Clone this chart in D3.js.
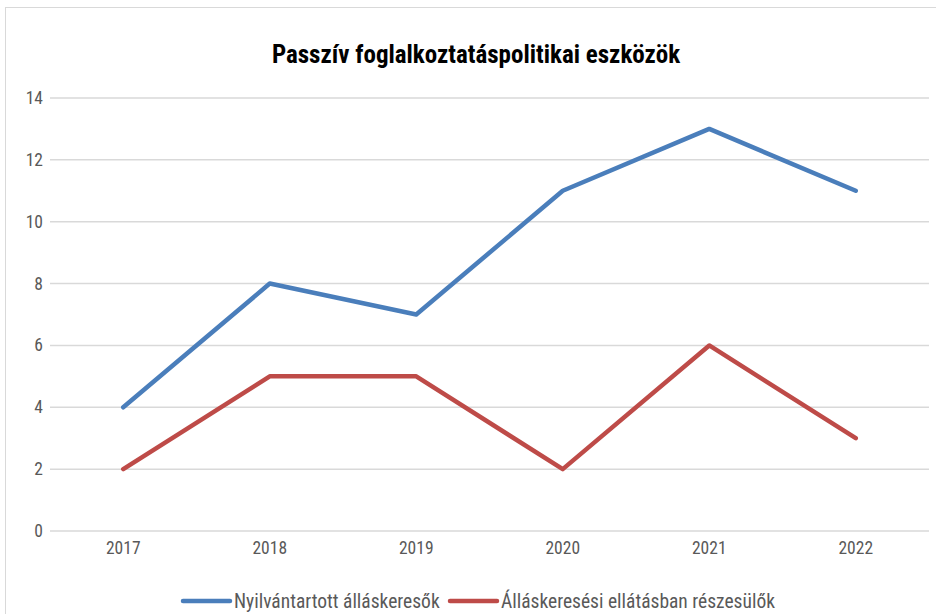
<!DOCTYPE html>
<html>
<head>
<meta charset="utf-8">
<script src="https://cdn.jsdelivr.net/npm/d3@7"></script>
<style>
  body { margin: 0; background: #fff; }
  text { font-family: "Liberation Sans Narrow", "Roboto Condensed", "Liberation Sans", sans-serif; }
</style>
</head>
<body>
<script>
// data
var years = ["2017", "2018", "2019", "2020", "2021", "2022"];
var nyilvantartott = [4, 8, 7, 11, 13, 11];
var ellatasban = [2, 5, 5, 2, 6, 3];
var yTicks = [0, 2, 4, 6, 8, 10, 12, 14];
var seriesNames = ["Nyilvántartott álláskeresők", "Álláskeresési ellátásban részesülők"];
var seriesColors = ["#4a7ebb", "#be4b48"];

var width = 936,
    height = 614;

var svg = d3.select("body")
    .append("svg")
    .attr("width", width)
    .attr("height", height);

// chart frame (right and bottom sit outside the picture)
svg.append("rect")
    .attr("x", 5.5).attr("y", 7.5)
    .attr("width", 960).attr("height", 640)
    .attr("fill", "none")
    .attr("stroke", "#d9d9d9");

svg.append("text")
    .attr("x", 476).attr("y", 63)
    .attr("text-anchor", "middle")
    .attr("font-size", 25)
    .attr("font-weight", "bold")
    .attr("fill", "#000")
    .text("Passzív foglalkoztatáspolitikai eszközök");

var x = d3.scaleBand()
    .domain(years)
    .range([50, 929]);

var y = d3.scaleLinear()
    .domain([0, 14])
    .range([531, 98]);

// gridlines
svg.append("g")
    .selectAll("line")
    .data(yTicks)
    .enter()
    .append("line")
    .attr("x1", 50).attr("x2", 929)
    .attr("y1", function(d){ return y(d); })
    .attr("y2", function(d){ return y(d); })
    .attr("stroke", "#d9d9d9")
    .attr("stroke-width", 1.5);

// y labels
svg.append("g")
    .selectAll("text")
    .data(yTicks)
    .enter()
    .append("text")
    .attr("x", 43)
    .attr("y", function(d){ return y(d) + 6; })
    .attr("text-anchor", "end")
    .attr("font-size", 17.5)
    .attr("fill", "#595959")
    .text(function(d){ return d; });

// x labels
svg.append("g")
    .selectAll("text")
    .data(years)
    .enter()
    .append("text")
    .attr("x", function(d){ return x(d) + x.bandwidth() / 2; })
    .attr("y", 554)
    .attr("text-anchor", "middle")
    .attr("font-size", 17.5)
    .attr("fill", "#595959")
    .text(function(d){ return d; });

var line = d3.line()
    .x(function(d, i){ return x(years[i]) + x.bandwidth() / 2; })
    .y(function(d){ return y(d); });

var allSeries = [nyilvantartott, ellatasban];

svg.append("g")
    .selectAll("path")
    .data(allSeries)
    .enter()
    .append("path")
    .attr("d", function(d){ return line(d); })
    .attr("fill", "none")
    .attr("stroke", function(d, i){ return seriesColors[i]; })
    .attr("stroke-width", 4.5)
    .attr("stroke-linecap", "round")
    .attr("stroke-linejoin", "round");

// legend
var legendX = [183, 450];
var legend = svg.append("g")
    .selectAll("g")
    .data(seriesNames)
    .enter()
    .append("g")
    .attr("transform", function(d, i){ return "translate(" + legendX[i] + ",601)"; });

legend.append("line")
    .attr("x1", 0).attr("x2", 47)
    .attr("stroke", function(d, i){ return seriesColors[i]; })
    .attr("stroke-width", 4.5)
    .attr("stroke-linecap", "round");

legend.append("text")
    .attr("x", 51)
    .attr("y", 7)
    .attr("font-size", 19.5)
    .attr("fill", "#595959")
    .text(function(d){ return d; });
</script>
</body>
</html>
